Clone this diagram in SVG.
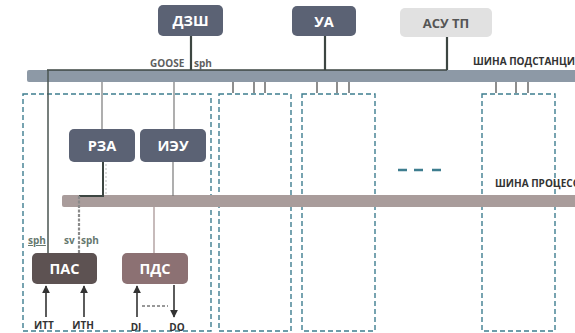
<svg xmlns="http://www.w3.org/2000/svg" width="575" height="333" viewBox="0 0 575 333">
<defs>
<marker id="ah" viewBox="0 0 10 10" refX="9" refY="5" markerWidth="5" markerHeight="5" orient="auto-start-reverse"><path d="M0,0 L10,5 L0,10 z" fill="#333"/></marker>
<style>
.node{fill:#5b6274}
.t{font-family:"Open Sans","Liberation Sans",sans-serif;font-weight:bold}
.nt{font-size:14.5px;fill:#fff;text-anchor:middle}
.lbl{font-size:10px;fill:#5e5e5e}
.grn{font-size:10px;fill:#66786f}
.io{font-size:10px;fill:#333;text-anchor:middle}
.bay{fill:none;stroke:#3e7d8f;stroke-width:1.4;stroke-dasharray:5 3}
.stub{stroke:#444;stroke-width:1.2}
.thin{stroke:#7a7a7a;stroke-width:1.2;fill:none}
.arr{stroke:#333;stroke-width:1.6;fill:none}
</style>
</defs>
<rect width="575" height="333" fill="#fff"/>
<g id="bays">
<rect class="bay" x="23" y="94" width="188" height="237"/>
<rect class="bay" x="219" y="94" width="72" height="237"/>
<rect class="bay" x="302" y="94" width="73" height="237"/>
<rect class="bay" x="482" y="94" width="73" height="237"/>
<path d="M398,170 H407 M414,170 H423 M432,170 H441" stroke="#3e7d8f" stroke-width="2.5"/>
</g>
<g id="bus-substation">
<rect x="27" y="70" width="560" height="12" rx="2" fill="#8d99a6"/>
<text class="t" x="473" y="65" font-size="10" fill="#333">ШИНА ПОДСТАНЦИИ</text>
</g>
<g id="bus-process">
<rect x="62" y="195" width="520" height="12" rx="2" fill="#a99c9b"/>
<text class="t" x="495" y="187" font-size="10" fill="#333">ШИНА ПРОЦЕССА</text>
</g>
<g id="connectors">
<path d="M47,70 H447" stroke="#3d4642" stroke-width="1.6"/>
<path d="M191,36 V70 M325,36 V70 M447,37 V70" stroke="#3d4642" stroke-width="2.2"/>
<path class="stub" d="M233,82 V93 M254,82 V93 M265,82 V93 M317,82 V93 M337,82 V93 M349,82 V93 M496,82 V93 M516,82 V93 M528,82 V93"/>
<path d="M48,70 V253" stroke="#4a5550" stroke-width="1.5"/>
<path class="thin" d="M102,82 V129 M174,82 V129 M173,162 V196"/>
<path d="M103,162 V196 H79" stroke="#3d4642" stroke-width="2" fill="none"/>
<path d="M106,164 V194" stroke="#bbb" stroke-width="1" stroke-dasharray="2 2"/>
<path d="M79,196 V253" stroke="#8a8a8a" stroke-width="2.2" stroke-dasharray="3 1.5"/>
<path d="M154,207 V253" stroke="#b5a5a5" stroke-width="1.5"/>
<path class="arr" d="M46,317 V286" marker-end="url(#ah)"/>
<path class="arr" d="M84,317 V286" marker-end="url(#ah)"/>
<path class="arr" d="M137,317 V286" marker-end="url(#ah)"/>
<path class="arr" d="M174,285 V317" marker-end="url(#ah)"/>
<path d="M142,306 H168" stroke="#333" stroke-width="1" stroke-dasharray="3 2"/>
</g>
<g id="labels">
<text class="t lbl" x="150" y="67">GOOSE</text>
<text class="t lbl" x="194" y="67">sph</text>
<text class="t grn" x="28" y="244" text-decoration="underline">sph</text>
<text class="t grn" x="64" y="244">sv</text>
<text class="t grn" x="81" y="244">sph</text>
<text class="t io" x="44" y="329">ИТТ</text>
<text class="t io" x="83" y="329">ИТН</text>
<text class="t io" x="136" y="331">DI</text>
<text class="t io" x="177" y="331">DO</text>
</g>
<g id="node-dzsh"><rect class="node" x="158" y="5" width="65" height="31" rx="5"/><text class="t nt" x="190.5" y="26">ДЗШ</text></g>
<g id="node-ua"><rect class="node" x="292" y="6" width="64" height="30" rx="5"/><text class="t nt" x="324" y="26.5">УА</text></g>
<g id="node-asutp"><rect x="400" y="8" width="92" height="29" rx="5" fill="#e1e1e1"/><text class="t" x="446" y="27.5" font-size="13" fill="#555" text-anchor="middle">АСУ ТП</text></g>
<g id="node-rza"><rect class="node" x="69" y="129" width="66" height="33" rx="5"/><text class="t nt" x="102" y="150.5">РЗА</text></g>
<g id="node-ieu"><rect class="node" x="140" y="129" width="66" height="33" rx="5"/><text class="t nt" x="173" y="150.5">ИЭУ</text></g>
<g id="node-pas"><rect x="32" y="253" width="65" height="31" rx="5" fill="#5d5252"/><text class="t nt" x="64.5" y="274">ПАС</text></g>
<g id="node-pds"><rect x="122" y="253" width="66" height="31" rx="5" fill="#8c7173"/><text class="t nt" x="155" y="274">ПДС</text></g>
</svg>
